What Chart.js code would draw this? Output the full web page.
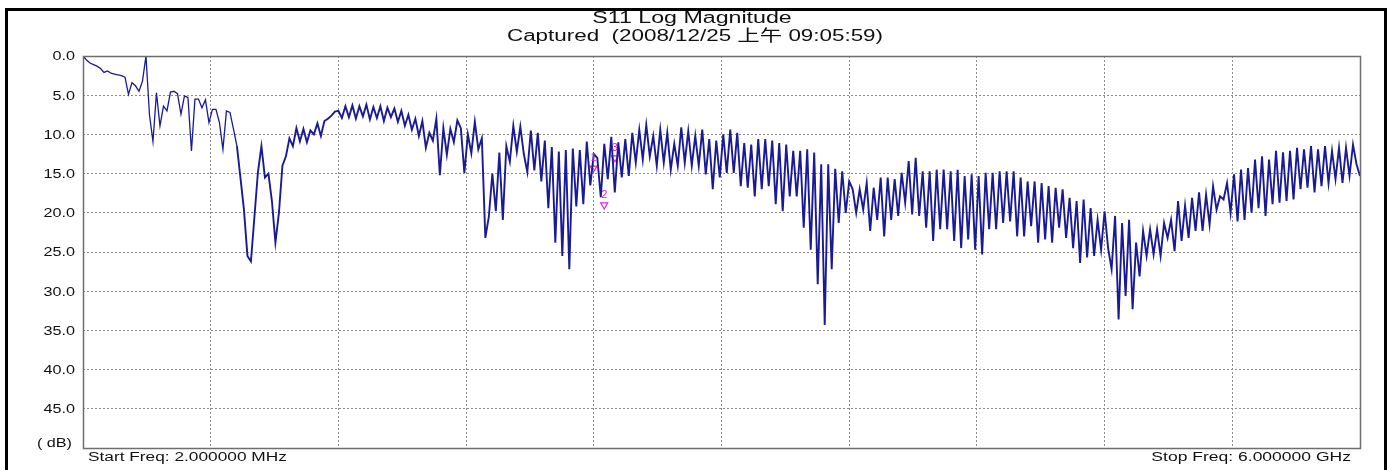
<!DOCTYPE html>
<html>
<head>
<meta charset="utf-8">
<script src="https://cdn.jsdelivr.net/npm/chart.js@4.4.0/dist/chart.umd.min.js"></script>
<style>
  html, body { margin: 0; padding: 0; background: #fff; }
  #wrap { position: relative; width: 1390px; height: 470px; }
</style>
</head>
<body>
<div id="wrap"><canvas id="s11" width="1390" height="470"></canvas></div>
<script>
// texts
const titleText = 'S11 Log Magnitude';
const subtitleText = 'Captured  (2008/12/25 上午 09:05:59)';
const startLabel = 'Start Freq: 2.000000 MHz';
const stopLabel = 'Stop Freq: 6.000000 GHz';

// sweep
const startMHz = 2;
const stopMHz = 6000;
const gridDivisions = 10;

// y axis (dB, 0 on top)
const dbTicks = [0, 5, 10, 15, 20, 25, 30, 35, 40, 45, 50];
const dbTickLabels = ['0.0', '5.0', '10.0', '15.0', '20.0', '25.0', '30.0', '35.0', '40.0', '45.0', '( dB)'];

// trace, evenly spaced over the sweep
const s11dB = [
  0.0, 0.5, 0.9, 1.1, 1.3, 1.6, 2.1, 1.9, 2.2, 2.3,
  2.4, 2.5, 2.7, 4.9, 3.4, 3.8, 4.5, 3.2, 0.0, 7.5,
  10.9, 4.7, 8.9, 6.4, 7.0, 4.6, 4.5, 4.8, 7.4, 5.1,
  5.3, 12.1, 5.5, 5.5, 6.6, 5.6, 8.5, 6.8, 6.8, 8.5,
  11.9, 7.0, 7.2, 9.3, 11.5, 15.5, 19.6, 25.5, 26.2, 20.5,
  14.8, 11.5, 15.5, 15.0, 18.5, 23.8, 20.0, 14.0, 12.8, 10.5,
  11.5, 9.2, 10.9, 9.3, 11.0, 9.5, 10.0, 8.6, 10.2, 8.3,
  8.0, 7.6, 7.1, 7.0, 7.9, 6.4, 7.8, 6.3, 8.0, 6.4,
  7.7, 6.2, 8.1, 6.5, 7.9, 6.4, 8.3, 6.6, 7.8, 6.7,
  8.4, 7.0, 8.9, 7.5, 9.4, 8.0, 10.2, 8.3, 11.7, 9.8,
  10.8, 8.0, 15.2, 9.2, 12.6, 9.3, 11.0, 8.2, 9.2, 14.9,
  10.0, 12.4, 8.4, 11.9, 10.5, 23.2, 20.5, 15.0, 19.8, 12.3,
  20.9, 11.5, 13.5, 8.9, 12.2, 9.0, 12.5, 14.8, 9.5, 14.6,
  9.8, 16.0, 10.8, 19.4, 11.6, 23.8, 12.2, 25.5, 12.0, 27.2,
  11.8, 19.2, 12.0, 18.9, 10.9, 16.5, 12.5, 13.0, 18.0, 11.2,
  15.7, 10.3, 17.4, 11.0, 15.5, 10.6, 15.3, 9.8, 13.6, 9.4,
  13.2, 8.8, 12.8, 10.2, 14.0, 9.4, 13.6, 9.8, 14.5, 11.2,
  14.0, 9.1, 13.6, 9.6, 14.0, 10.2, 14.0, 9.4, 15.1, 10.6,
  17.0, 10.8, 15.5, 10.0, 14.9, 9.4, 14.9, 9.8, 16.6, 11.1,
  16.8, 11.3, 17.9, 10.6, 17.0, 10.6, 16.6, 10.8, 18.9, 11.1,
  19.8, 11.3, 17.9, 12.1, 17.9, 12.1, 21.9, 11.9, 24.7, 12.3,
  29.1, 13.8, 34.3, 13.8, 27.2, 14.4, 21.3, 14.7, 20.0, 16.0,
  17.0, 20.0, 17.0, 19.6, 16.2, 22.3, 16.8, 20.9, 15.5, 23.0,
  15.5, 20.9, 15.7, 20.4, 14.9, 18.7, 13.4, 20.2, 13.0, 20.4,
  14.7, 21.9, 14.7, 23.6, 14.5, 22.1, 14.5, 22.1, 14.7, 23.6,
  14.5, 24.5, 15.3, 23.4, 15.1, 24.7, 15.3, 25.3, 14.9, 22.1,
  14.9, 22.1, 14.7, 21.3, 14.7, 21.1, 14.7, 23.0, 15.5, 23.0,
  16.0, 21.7, 16.0, 23.8, 16.2, 23.4, 16.6, 23.8, 16.8, 21.9,
  17.0, 23.2, 18.1, 24.5, 18.5, 26.4, 18.3, 25.7, 19.4, 25.5,
  20.9, 24.7, 19.8, 24.5, 27.2, 20.4, 33.6, 21.3, 30.6, 20.9,
  32.3, 23.8, 28.1, 22.3, 25.5, 22.1, 25.3, 22.1, 25.5, 21.3,
  23.2, 20.9, 24.9, 18.5, 23.6, 19.1, 23.2, 18.1, 22.3, 17.4,
  22.3, 17.7, 21.5, 16.6, 19.6, 17.9, 18.3, 16.2, 20.0, 15.1,
  21.1, 14.5, 20.9, 14.3, 20.0, 13.2, 19.4, 12.8, 20.4, 13.2,
  18.9, 12.1, 18.7, 12.3, 18.5, 12.1, 18.3, 11.7, 17.0, 11.9,
  16.8, 11.5, 17.4, 11.9, 16.6, 11.5, 16.2, 12.1, 15.7, 11.7,
  16.2, 11.7, 15.3, 11.3, 13.8, 15.3
];

// markers
const markerLabels = ['1', '2', '3'];
const markerMHz = [2400, 2450, 2500];
const markerDB = [14.3, 19.0, 13.0];

const stepMHz = (stopMHz - startMHz) / (s11dB.length - 1);
const tracePoints = s11dB.map((v, i) => ({ x: startMHz + i * stepMHz, y: v }));
const markerPoints = markerMHz.map((f, i) => ({ x: f, y: markerDB[i] }));
const gridMHz = [];
for (let k = 0; k <= gridDivisions; k++) gridMHz.push(startMHz + k * (stopMHz - startMHz) / gridDivisions);

const FONT = '"Liberation Sans", Arial, "Noto Sans CJK TC", sans-serif';

// the source picture is stretched sideways, so text is drawn wider than normal
function wideText(ctx, text, x, y, align, size, sx) {
  ctx.save();
  ctx.font = size + 'px ' + FONT;
  const w = ctx.measureText(text).width * sx;
  let left = x;
  if (align === 'right') left = x - w;
  if (align === 'center') left = x - w / 2;
  ctx.translate(left, y);
  ctx.scale(sx, 1);
  ctx.textAlign = 'left';
  ctx.textBaseline = 'alphabetic';
  ctx.fillStyle = '#111';
  ctx.fillText(text, 0, 0);
  ctx.restore();
}

const frame = {
  id: 'frame',
  afterDraw(chart) {
    const ctx = chart.ctx;
    const a = chart.chartArea;
    const y = chart.scales.y;
    const x = chart.scales.x;

    ctx.save();
    ctx.strokeStyle = '#6e6e6e';
    ctx.lineWidth = 1.5;
    ctx.strokeRect(a.left + 0.5, a.top + 0.5, a.right - a.left, a.bottom - a.top);
    ctx.strokeStyle = '#000';
    ctx.lineWidth = 3;
    ctx.strokeRect(6.5, 9.5, 1379, 520);
    ctx.restore();

    wideText(ctx, titleText, 692, 23, 'center', 16, 1.45);
    wideText(ctx, subtitleText, 695, 41, 'center', 16, 1.4);

    dbTicks.forEach((v, i) => {
      const py = y.getPixelForValue(v);
      const last = i === dbTicks.length - 1;
      wideText(ctx, dbTickLabels[i], last ? 72 : 75, last ? py - 1 : py + 4.3, 'right', 12, 1.35);
    });

    wideText(ctx, startLabel, 88, 461, 'left', 12, 1.44);
    wideText(ctx, stopLabel, 1351, 461, 'right', 12, 1.46);

    // marker numbers
    ctx.save();
    ctx.fillStyle = '#e020e0';
    ctx.font = '11px ' + FONT;
    ctx.textAlign = 'center';
    markerPoints.forEach((p, i) => {
      ctx.fillText(markerLabels[i], x.getPixelForValue(p.x), y.getPixelForValue(p.y) - 7);
    });
    ctx.restore();
  }
};

new Chart(document.getElementById('s11'), {
  type: 'line',
  data: {
    datasets: [
      {
        label: 'S11',
        data: tracePoints,
        borderColor: '#1a1a96',
        borderWidth: 1.9,
        segment: { borderWidth: (c) => (c.p0DataIndex < 44 ? 1.3 : 1.9) },
        pointRadius: 0,
        tension: 0,
        fill: false
      },
      {
        label: 'Markers',
        type: 'scatter',
        data: markerPoints,
        pointStyle: 'triangle',
        rotation: 180,
        pointRadius: 4,
        borderColor: '#e020e0',
        backgroundColor: 'rgba(0,0,0,0)',
        borderWidth: 1.2
      }
    ]
  },
  options: {
    responsive: false,
    animation: false,
    devicePixelRatio: 1,
    layout: { padding: { top: 56, left: 0, right: 30, bottom: 22 } },
    plugins: { legend: { display: false }, tooltip: { enabled: false }, title: { display: false } },
    scales: {
      x: {
        type: 'linear',
        min: startMHz,
        max: stopMHz,
        afterBuildTicks: (s) => { s.ticks = gridMHz.map(v => ({ value: v })); },
        afterFit: (s) => { s.height = 0; },
        ticks: { display: false },
        grid: { color: '#8c8c8c', lineWidth: 1, drawTicks: false },
        border: { display: false, dash: [2, 2] }
      },
      y: {
        type: 'linear',
        reverse: true,
        min: 0,
        max: 50,
        afterBuildTicks: (s) => { s.ticks = dbTicks.map(v => ({ value: v })); },
        afterFit: (s) => { s.width = 83; },
        ticks: { display: false },
        grid: { color: '#8c8c8c', lineWidth: 1, drawTicks: false },
        border: { display: false, dash: [2, 2] }
      }
    }
  },
  plugins: [frame]
});
</script>
</body>
</html>
